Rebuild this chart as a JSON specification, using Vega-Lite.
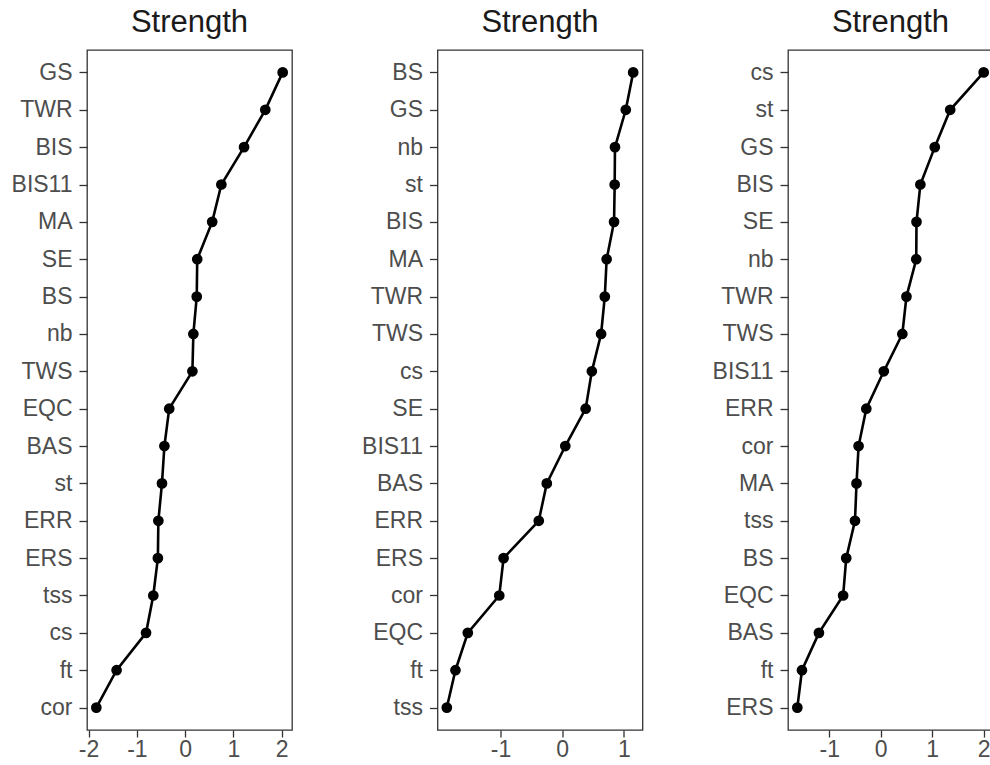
{
  "$schema": "https://vega.github.io/schema/vega-lite/v6.json",
  "padding": {"left": 6, "top": 6, "right": 0, "bottom": 0},
  "background": "white",
  "datasets": {
    "a": [
      {"item": "GS", "strength": 2.02},
      {"item": "TWR", "strength": 1.66},
      {"item": "BIS", "strength": 1.22},
      {"item": "BIS11", "strength": 0.75},
      {"item": "MA", "strength": 0.56},
      {"item": "SE", "strength": 0.25},
      {"item": "BS", "strength": 0.24},
      {"item": "nb", "strength": 0.17},
      {"item": "TWS", "strength": 0.15},
      {"item": "EQC", "strength": -0.33},
      {"item": "BAS", "strength": -0.43},
      {"item": "st", "strength": -0.48},
      {"item": "ERR", "strength": -0.555},
      {"item": "ERS", "strength": -0.565},
      {"item": "tss", "strength": -0.66},
      {"item": "cs", "strength": -0.81},
      {"item": "ft", "strength": -1.42},
      {"item": "cor", "strength": -1.84}
    ],
    "b": [
      {"item": "BS", "strength": 1.15},
      {"item": "GS", "strength": 1.03},
      {"item": "nb", "strength": 0.855},
      {"item": "st", "strength": 0.85},
      {"item": "BIS", "strength": 0.84},
      {"item": "MA", "strength": 0.72},
      {"item": "TWR", "strength": 0.69},
      {"item": "TWS", "strength": 0.63},
      {"item": "cs", "strength": 0.48},
      {"item": "SE", "strength": 0.38},
      {"item": "BIS11", "strength": 0.05},
      {"item": "BAS", "strength": -0.25},
      {"item": "ERR", "strength": -0.38},
      {"item": "ERS", "strength": -0.95},
      {"item": "cor", "strength": -1.02},
      {"item": "EQC", "strength": -1.53},
      {"item": "ft", "strength": -1.73},
      {"item": "tss", "strength": -1.87}
    ],
    "c": [
      {"item": "cs", "strength": 2.0},
      {"item": "st", "strength": 1.35},
      {"item": "GS", "strength": 1.05},
      {"item": "BIS", "strength": 0.77},
      {"item": "SE", "strength": 0.695},
      {"item": "nb", "strength": 0.69},
      {"item": "TWR", "strength": 0.5},
      {"item": "TWS", "strength": 0.42},
      {"item": "BIS11", "strength": 0.06},
      {"item": "ERR", "strength": -0.28},
      {"item": "cor", "strength": -0.43},
      {"item": "MA", "strength": -0.47},
      {"item": "tss", "strength": -0.5},
      {"item": "BS", "strength": -0.67},
      {"item": "EQC", "strength": -0.73},
      {"item": "BAS", "strength": -1.2},
      {"item": "ft", "strength": -1.53},
      {"item": "ERS", "strength": -1.62}
    ]
  },
  "spacing": 63.5,
  "hconcat": [
    {
      "data": {"name": "a"},
      "title": "Strength",
      "width": 205,
      "height": 680,
      "encoding": {
        "y": {"field": "item", "type": "nominal", "sort": null, "title": null, "scale": {"padding": 0.6}},
        "x": {"field": "strength", "type": "quantitative", "title": null,
              "scale": {"domain": [-2.033, 2.213], "nice": false, "zero": false},
              "axis": {"values": [-2, -1, 0, 1, 2]}},
        "order": {"field": "strength", "sort": "descending"}
      },
      "layer": [
        {"mark": {"type": "line", "color": "black", "strokeWidth": 2.6}},
        {"mark": {"type": "point", "filled": true, "color": "black", "opacity": 1, "size": 115}}
      ]
    },
    {
      "data": {"name": "b"},
      "title": "Strength",
      "width": 205,
      "height": 680,
      "encoding": {
        "y": {"field": "item", "type": "nominal", "sort": null, "title": null, "scale": {"padding": 0.6}},
        "x": {"field": "strength", "type": "quantitative", "title": null,
              "scale": {"domain": [-2.021, 1.301], "nice": false, "zero": false},
              "axis": {"values": [-1, 0, 1]}},
        "order": {"field": "strength", "sort": "descending"}
      },
      "layer": [
        {"mark": {"type": "line", "color": "black", "strokeWidth": 2.6}},
        {"mark": {"type": "point", "filled": true, "color": "black", "opacity": 1, "size": 115}}
      ]
    },
    {
      "data": {"name": "c"},
      "title": "Strength",
      "width": 205,
      "height": 680,
      "encoding": {
        "y": {"field": "item", "type": "nominal", "sort": null, "title": null, "scale": {"padding": 0.6}},
        "x": {"field": "strength", "type": "quantitative", "title": null,
              "scale": {"domain": [-1.801, 2.181], "nice": false, "zero": false},
              "axis": {"values": [-1, 0, 1, 2]}},
        "order": {"field": "strength", "sort": "descending"}
      },
      "layer": [
        {"mark": {"type": "line", "color": "black", "strokeWidth": 2.6}},
        {"mark": {"type": "point", "filled": true, "color": "black", "opacity": 1, "size": 115}}
      ]
    }
  ],
  "config": {
    "font": "Liberation Sans",
    "view": {"stroke": "#333333", "strokeWidth": 1.3},
    "title": {"fontSize": 31, "fontWeight": "normal", "color": "#1a1a1a", "anchor": "middle", "offset": 11},
    "axis": {
      "domain": false,
      "grid": false,
      "ticks": true,
      "tickColor": "#333333",
      "tickWidth": 1.3,
      "tickSize": 8,
      "labelFont": "Liberation Sans",
      "labelFontSize": 23,
      "labelColor": "#4d4d4d",
      "labelPadding": 4
    },
    "axisY": {"minExtent": 80, "maxExtent": 80, "labelPadding": 7},
    "axisX": {
      "labelFlush": false,
      "labelOverlap": false,
      "tickSize": 7,
      "labelPadding": 1,
      "labelExpr": "datum.value < 0 ? '-' + abs(datum.value) : '' + datum.value"
    }
  }
}
